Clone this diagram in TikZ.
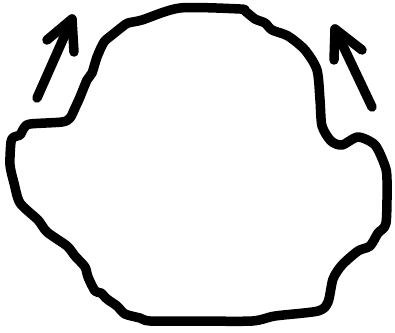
\documentclass[tikz,border=0pt]{standalone}
\begin{document}
\begin{tikzpicture}[x=1pt,y=-1pt,
  ink/.style={line width=9.5pt,line cap=round,line join=round,black}]
\useasboundingbox (0,0) rectangle (395,332);
\draw[ink] plot[smooth cycle,tension=0.45] coordinates {
 (11,142) (14,137) (20,135) (24,128) (30,124) (62,122) (70,118) (75,108)
 (80,97) (87,80) (92,73) (97,57) (104,42) (112,35) (122,27) (128,23)
 (142,20) (180,8) (240,9) (245,11) (255,19) (265,23) (272,30) (288,36)
 (305,50) (317,70) (320,100) (322,126) (331,141) (342,145) (358,137)
 (375,145) (385,166) (387,180) (386,223) (378,233) (370,246) (358,251)
 (342,265) (333,279) (328,302) (318,311) (275,316) (252,321) (195,321)
 (150,321) (140,318) (125,314) (117,306) (107,299) (101,293) (95,291)
 (88,277) (85,267) (75,256) (67,246) (47,232) (38,220) (20,203)
 (14,183) (10,165)};
\coordinate (lt) at (72,19);
\draw[ink] (37,98) -- (lt);
\draw[ink] (47,40) -- (lt) -- (74,52);
\coordinate (rt) at (335,29);
\draw[ink] (372,107) -- (rt);
\draw[ink] (334,60) -- (rt) -- (362,50);
\end{tikzpicture}
\end{document}
